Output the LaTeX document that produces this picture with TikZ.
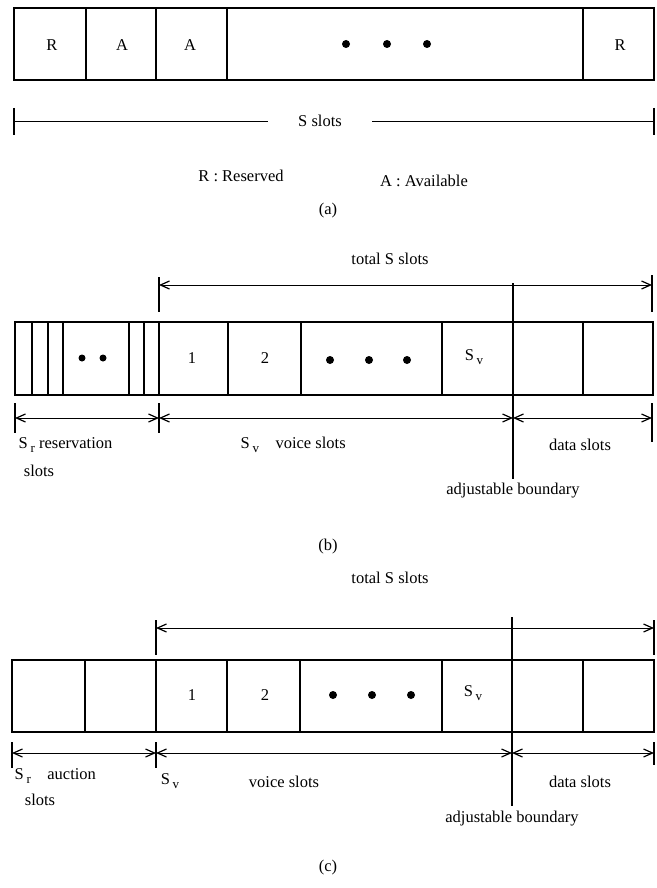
\documentclass[tikz,border=0pt]{standalone}
\usepackage{fontspec}
\setmainfont{Liberation Serif}
\usetikzlibrary{arrows.meta}
\begin{document}
\begin{tikzpicture}[x=1pt,y=-1pt, line width=1.3pt,
  lbl/.style={font=\fontsize{16.5}{19}\selectfont, inner sep=0pt},
  dimline/.style={line width=0.9pt, {Straight Barb[length=9pt,width=8pt,line width=1.2pt]}-{Straight Barb[length=9pt,width=8pt,line width=1.2pt]}},
  plainline/.style={line width=0.9pt},
  tickline/.style={line width=1.1pt},
  bigdot/.style={circle, fill, inner sep=0pt, minimum size=8pt},
  smalldot/.style={circle, fill, inner sep=0pt, minimum size=7pt}]
\useasboundingbox (0,0) rectangle (656,888);
\newcommand{\Sub}[1]{S\,\raisebox{-4pt}{\fontsize{13}{15}\selectfont #1}}

% ---------------- (a) ----------------
\draw (14,8) rectangle (654,80);
\foreach \x in {86,156,227,583} \draw (\x,8) -- (\x,80);
\node[lbl] (ar1) at (52,45) {R};
\node[lbl] (aa1) at (122,45) {A};
\node[lbl] (aa2) at (190,45) {A};
\node[bigdot] (ad1) at (346,44) {};
\node[bigdot] (ad2) at (387,44) {};
\node[bigdot] (ad3) at (427,44) {};
\node[lbl] (ar2) at (620,45) {R};

\coordinate (atl1) at (14,108); \coordinate (atl2) at (14,135);
\coordinate (atr1) at (654,108); \coordinate (atr2) at (654,135);
\coordinate (aml) at (14,121); \coordinate (amr) at (654,121);
\draw[tickline] (atl1) -- (atl2);
\draw[tickline] (atr1) -- (atr2);
\node[lbl, inner xsep=30pt] (asl) at (320,121) {S slots};
\draw[plainline] (aml) -- (asl);
\draw[plainline] (asl) -- (amr);
\node[lbl] (aleg1) at (241,176) {R : Reserved};
\node[lbl] (aleg2) at (424,181) {A : Available};
\node[lbl] (acap) at (328,211) {(a)};

% ---------------- (b) ----------------
\node[lbl] (btot) at (390,259) {total S slots};
\coordinate (bt1a) at (159,277); \coordinate (bt1b) at (159,312);
\coordinate (bt2a) at (652,275); \coordinate (bt2b) at (652,312);
\draw[tickline] (bt1a) -- (bt1b);
\draw[tickline] (bt2a) -- (bt2b);
\coordinate (bta) at (159,285); \coordinate (btb) at (652,285);
\draw[dimline] (bta) -- (btb);

\draw (15,322) rectangle (653,395);
\foreach \x in {32,48,63,129,144,228,301,442,583} \draw (\x,322) -- (\x,395);
\draw[line width=1.6pt] (159,322) -- (159,395);
\node[smalldot] (bsd1) at (82,358) {};
\node[smalldot] (bsd2) at (103,358) {};
\node[lbl] (b1) at (192,358) {1};
\node[lbl] (b2) at (265,358) {2};
\node[bigdot] (bd1) at (330,360) {};
\node[bigdot] (bd2) at (369,360) {};
\node[bigdot] (bd3) at (407,360) {};
\node[lbl] (bsv) at (474,357) {\Sub{v}};

\coordinate (bbt) at (513,283); \coordinate (bbb) at (513,479);
\draw[line width=1.3pt] (bbt) -- (bbb);
\coordinate (bl1) at (15,403); \coordinate (bl2) at (15,433);
\coordinate (bm1) at (159,403); \coordinate (bm2) at (159,433);
\coordinate (br1) at (652,403); \coordinate (br2) at (652,442);
\draw[tickline] (bl1) -- (bl2);
\draw[tickline] (bm1) -- (bm2);
\draw[tickline] (br1) -- (br2);
\coordinate (bya) at (15,418); \coordinate (byb) at (159,418);
\coordinate (byc) at (513,418); \coordinate (byd) at (652,418);
\draw[dimline] (bya) -- (byb);
\draw[dimline] (byb) -- (byc);
\draw[dimline] (byc) -- (byd);
\node[lbl, anchor=west] (bres) at (18,445) {\Sub{r} reservation};
\node[lbl] (bres2) at (39,471) {slots};
\node[lbl, anchor=west] (bvoice) at (240,445) {\Sub{v}\quad voice slots};
\node[lbl] (bdata) at (580,445) {data slots};
\node[lbl] (badj) at (513,491) {adjustable boundary};
\node[lbl] (bcap) at (328,547) {(b)};

% ---------------- (c) ----------------
\node[lbl] (ctot) at (390,578) {total S slots};
\coordinate (ct1a) at (156,620); \coordinate (ct1b) at (156,655);
\coordinate (ct2a) at (654,620); \coordinate (ct2b) at (654,655);
\draw[tickline] (ct1a) -- (ct1b);
\draw[tickline] (ct2a) -- (ct2b);
\coordinate (cta) at (156,628); \coordinate (ctb) at (654,628);
\draw[dimline] (cta) -- (ctb);

\draw (12,660) rectangle (654,732);
\foreach \x in {85,227,300,442,583} \draw (\x,660) -- (\x,732);
\draw[line width=1.6pt] (156,660) -- (156,732);
\node[lbl] (c1) at (192,695) {1};
\node[lbl] (c2) at (265,695) {2};
\node[bigdot] (cd1) at (333,695) {};
\node[bigdot] (cd2) at (372,695) {};
\node[bigdot] (cd3) at (411,695) {};
\node[lbl] (csv) at (473,693) {\Sub{v}};

\coordinate (cbt) at (512,617); \coordinate (cbb) at (512,806);
\draw[line width=1.3pt] (cbt) -- (cbb);
\coordinate (cl1) at (12,742); \coordinate (cl2) at (12,768);
\coordinate (cm1) at (156,742); \coordinate (cm2) at (156,768);
\coordinate (cr1) at (654,742); \coordinate (cr2) at (654,765);
\draw[tickline] (cl1) -- (cl2);
\draw[tickline] (cm1) -- (cm2);
\draw[tickline] (cr1) -- (cr2);
\coordinate (cya) at (12,753); \coordinate (cyb) at (156,753);
\coordinate (cyc) at (512,753); \coordinate (cyd) at (654,753);
\draw[dimline] (cya) -- (cyb);
\draw[dimline] (cyb) -- (cyc);
\draw[dimline] (cyc) -- (cyd);
\node[lbl, anchor=west] (cauc) at (14,776) {\Sub{r}\quad auction};
\node[lbl] (cauc2) at (40,800) {slots};
\node[lbl] (csvl) at (170,781) {\Sub{v}};
\node[lbl] (cvoice) at (284,782) {voice slots};
\node[lbl] (cdata) at (580,782) {data slots};
\node[lbl] (cadj) at (512,819) {adjustable boundary};
\node[lbl] (ccap) at (328,868) {(c)};
\end{tikzpicture}
\end{document}
